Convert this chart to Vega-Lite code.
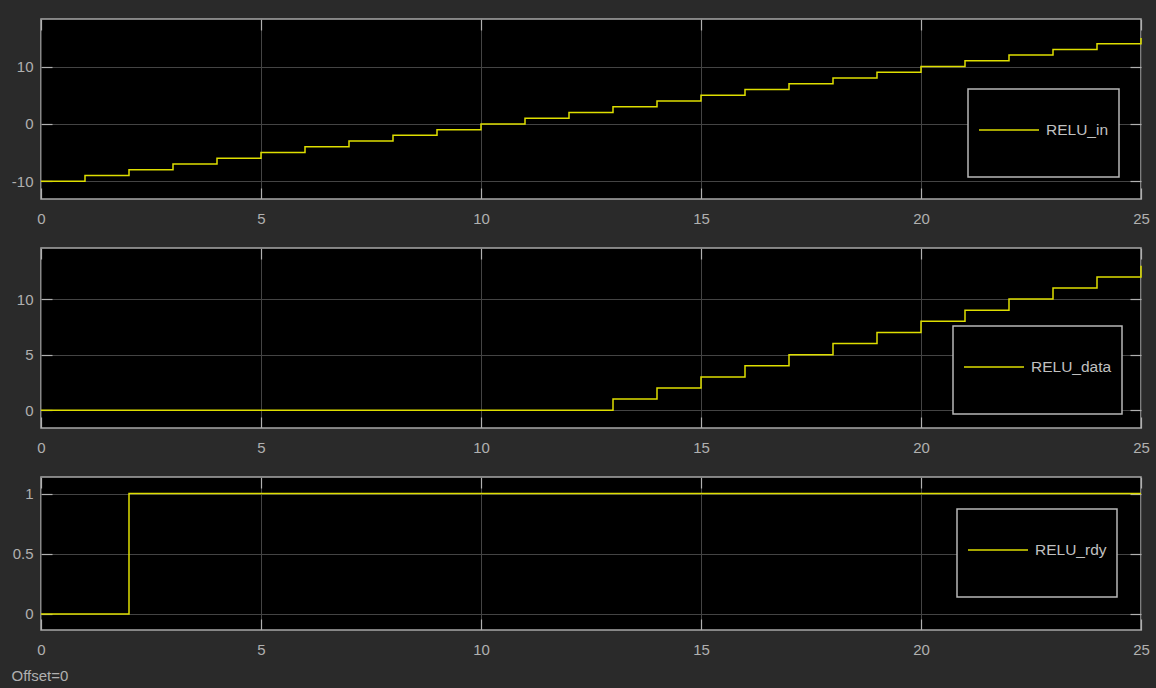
{
  "$schema": "https://vega.github.io/schema/vega-lite/v6.json",
  "background": "#2a2a2a",
  "padding": {"left": 10, "top": 17, "right": 14, "bottom": 10},
  "bounds": "flush",
  "spacing": 49,
  "datasets": {
    "relu_in": [
      {"t": 0, "v": -10, "series": "RELU_in"}, {"t": 1, "v": -9, "series": "RELU_in"},
      {"t": 2, "v": -8, "series": "RELU_in"}, {"t": 3, "v": -7, "series": "RELU_in"},
      {"t": 4, "v": -6, "series": "RELU_in"}, {"t": 5, "v": -5, "series": "RELU_in"},
      {"t": 6, "v": -4, "series": "RELU_in"}, {"t": 7, "v": -3, "series": "RELU_in"},
      {"t": 8, "v": -2, "series": "RELU_in"}, {"t": 9, "v": -1, "series": "RELU_in"},
      {"t": 10, "v": 0, "series": "RELU_in"}, {"t": 11, "v": 1, "series": "RELU_in"},
      {"t": 12, "v": 2, "series": "RELU_in"}, {"t": 13, "v": 3, "series": "RELU_in"},
      {"t": 14, "v": 4, "series": "RELU_in"}, {"t": 15, "v": 5, "series": "RELU_in"},
      {"t": 16, "v": 6, "series": "RELU_in"}, {"t": 17, "v": 7, "series": "RELU_in"},
      {"t": 18, "v": 8, "series": "RELU_in"}, {"t": 19, "v": 9, "series": "RELU_in"},
      {"t": 20, "v": 10, "series": "RELU_in"}, {"t": 21, "v": 11, "series": "RELU_in"},
      {"t": 22, "v": 12, "series": "RELU_in"}, {"t": 23, "v": 13, "series": "RELU_in"},
      {"t": 24, "v": 14, "series": "RELU_in"}, {"t": 25, "v": 15, "series": "RELU_in"}
    ],
    "relu_data": [
      {"t": 0, "v": 0, "series": "RELU_data"}, {"t": 13, "v": 1, "series": "RELU_data"},
      {"t": 14, "v": 2, "series": "RELU_data"}, {"t": 15, "v": 3, "series": "RELU_data"},
      {"t": 16, "v": 4, "series": "RELU_data"}, {"t": 17, "v": 5, "series": "RELU_data"},
      {"t": 18, "v": 6, "series": "RELU_data"}, {"t": 19, "v": 7, "series": "RELU_data"},
      {"t": 20, "v": 8, "series": "RELU_data"}, {"t": 21, "v": 9, "series": "RELU_data"},
      {"t": 22, "v": 10, "series": "RELU_data"}, {"t": 23, "v": 11, "series": "RELU_data"},
      {"t": 24, "v": 12, "series": "RELU_data"}, {"t": 25, "v": 13, "series": "RELU_data"}
    ],
    "relu_rdy": [
      {"t": 0, "v": 0, "series": "RELU_rdy"}, {"t": 2, "v": 1, "series": "RELU_rdy"},
      {"t": 25, "v": 1, "series": "RELU_rdy"}
    ]
  },
  "vconcat": [
    {
      "width": 1100, "height": 180,
      "data": {"name": "relu_in"},
      "layer": [
        {
          "mark": {"type": "line", "interpolate": "step-after", "strokeWidth": 1.5},
          "encoding": {
            "x": {"field": "t", "type": "quantitative", "scale": {"domain": [0, 25], "nice": false, "zero": false},
                  "axis": {"orient": "bottom", "values": [0, 5, 10, 15, 20, 25], "title": null, "grid": true, "tickSize": -11, "labelPadding": 23}},
            "y": {"field": "v", "type": "quantitative", "scale": {"domain": [-13.1, 18.3], "nice": false, "zero": false},
                  "axis": {"orient": "left", "values": [-10, 0, 10], "labelExpr": "datum.value + ''", "title": null, "grid": true, "tickSize": -11, "labelPadding": 19}},
            "color": {"field": "series", "type": "nominal", "scale": {"range": ["#dede00"]},
                      "legend": {"orient": "none", "legendX": 927, "legendY": 70, "title": null}}
          }
        },
        {
          "mark": {"type": "line", "interpolate": "step-after", "opacity": 0},
          "encoding": {
            "x": {"field": "t", "type": "quantitative", "scale": {"domain": [0, 25], "nice": false, "zero": false},
                  "axis": {"orient": "top", "values": [0, 5, 10, 15, 20, 25], "title": null, "grid": false, "labels": false, "tickSize": -11}},
            "y": {"field": "v", "type": "quantitative", "scale": {"domain": [-13.1, 18.3], "nice": false, "zero": false},
                  "axis": {"orient": "right", "values": [-10, 0, 10], "title": null, "grid": false, "labels": false, "tickSize": -11}}
          }
        }
      ],
      "resolve": {"axis": {"x": "independent", "y": "independent"}}
    },
    {
      "width": 1100, "height": 180,
      "data": {"name": "relu_data"},
      "layer": [
        {
          "mark": {"type": "line", "interpolate": "step-after", "strokeWidth": 1.5},
          "encoding": {
            "x": {"field": "t", "type": "quantitative", "scale": {"domain": [0, 25], "nice": false, "zero": false},
                  "axis": {"orient": "bottom", "values": [0, 5, 10, 15, 20, 25], "title": null, "grid": true, "tickSize": -11, "labelPadding": 23}},
            "y": {"field": "v", "type": "quantitative", "scale": {"domain": [-1.6, 14.6], "nice": false, "zero": false},
                  "axis": {"orient": "left", "values": [0, 5, 10], "labelExpr": "datum.value + ''", "title": null, "grid": true, "tickSize": -11, "labelPadding": 19}},
            "color": {"field": "series", "type": "nominal", "scale": {"range": ["#dede00"]},
                      "legend": {"orient": "none", "legendX": 912, "legendY": 78, "title": null}}
          }
        },
        {
          "mark": {"type": "line", "interpolate": "step-after", "opacity": 0},
          "encoding": {
            "x": {"field": "t", "type": "quantitative", "scale": {"domain": [0, 25], "nice": false, "zero": false},
                  "axis": {"orient": "top", "values": [0, 5, 10, 15, 20, 25], "title": null, "grid": false, "labels": false, "tickSize": -11}},
            "y": {"field": "v", "type": "quantitative", "scale": {"domain": [-1.6, 14.6], "nice": false, "zero": false},
                  "axis": {"orient": "right", "values": [0, 5, 10], "title": null, "grid": false, "labels": false, "tickSize": -11}}
          }
        }
      ],
      "resolve": {"axis": {"x": "independent", "y": "independent"}}
    },
    {
      "width": 1100, "height": 153,
      "data": {"name": "relu_rdy"},
      "layer": [
        {
          "mark": {"type": "line", "interpolate": "step-after", "strokeWidth": 1.5},
          "encoding": {
            "x": {"field": "t", "type": "quantitative", "scale": {"domain": [0, 25], "nice": false, "zero": false},
                  "axis": {"orient": "bottom", "values": [0, 5, 10, 15, 20, 25], "title": "Offset=0", "grid": true, "tickSize": -11, "labelPadding": 23,
                           "titleAnchor": "start", "titleAlign": "left", "titleBaseline": "alphabetic", "titleX": -30, "titleY": 50,
                           "titleFontSize": 15, "titleFontWeight": "normal", "titleColor": "#b0b0b0", "titleFont": "Liberation Sans"}},
            "y": {"field": "v", "type": "quantitative", "scale": {"domain": [-0.133, 1.137], "nice": false, "zero": false},
                  "axis": {"orient": "left", "values": [0, 0.5, 1], "labelExpr": "datum.value + ''", "title": null, "grid": true, "tickSize": -11, "labelPadding": 19}},
            "color": {"field": "series", "type": "nominal", "scale": {"range": ["#dede00"]},
                      "legend": {"orient": "none", "legendX": 916, "legendY": 32, "title": null}}
          }
        },
        {
          "mark": {"type": "line", "interpolate": "step-after", "opacity": 0},
          "encoding": {
            "x": {"field": "t", "type": "quantitative", "scale": {"domain": [0, 25], "nice": false, "zero": false},
                  "axis": {"orient": "top", "values": [0, 5, 10, 15, 20, 25], "title": null, "grid": false, "labels": false, "tickSize": -11}},
            "y": {"field": "v", "type": "quantitative", "scale": {"domain": [-0.133, 1.137], "nice": false, "zero": false},
                  "axis": {"orient": "right", "values": [0, 0.5, 1], "title": null, "grid": false, "labels": false, "tickSize": -11}}
          }
        }
      ],
      "resolve": {"axis": {"x": "independent", "y": "independent"}}
    }
  ],
  "resolve": {"scale": {"color": "independent"}, "legend": {"color": "independent"}},
  "config": {
    "view": {"fill": "black", "stroke": "#a8a8a8", "strokeWidth": 1.5},
    "axis": {
      "domain": false,
      "labelFont": "Liberation Sans", "labelFontSize": 15, "labelColor": "#b0b0b0",
      "gridColor": "#444444", "gridWidth": 1, "gridOpacity": 1,
      "tickColor": "#b0b0b0", "tickWidth": 1.2,
      "labelFlush": false
    },
    "legend": {
      "strokeColor": "#b8b8b8", "strokeWidth": 1.5, "fillColor": "black", "padding": 10, "cornerRadius": 0,
      "symbolType": "M-1,-1.13M-1,0L1,0M1,1.13", "symbolSize": 3600, "symbolStrokeWidth": 1.5, "symbolFillColor": "transparent",
      "labelFont": "Liberation Sans", "labelFontSize": 15.5, "labelColor": "#c0c0c0", "labelOffset": 6
    }
  }
}
